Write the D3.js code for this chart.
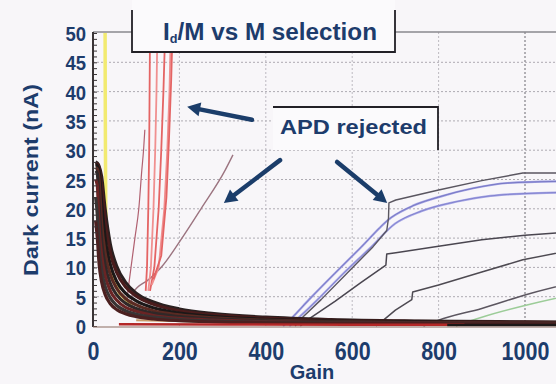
<!DOCTYPE html>
<html>
<head>
<meta charset="utf-8">
<script src="https://cdn.jsdelivr.net/npm/d3@7"></script>
<style>
html, body { margin: 0; padding: 0; background: #f8f6f9; }
svg { display: block; }
</style>
</head>
<body>
<svg id="chart" width="556" height="384"></svg>
<script>
// axis ticks
const gainTicks = [0, 200, 400, 600, 800, 1000];
const currentTicks = [0, 5, 10, 15, 20, 25, 30, 35, 40, 45, 50];

// the dense I/M decay band (gain, nA values per curve)
const bandGain = [6, 10, 14, 20, 28, 40, 55, 75, 100, 140, 200, 280, 400, 550, 750, 1000, 1100];
const band1 = [18, 15, 10.7, 7.5, 5.4, 3.8, 2.8, 2.1, 1.6, 1.2, 0.9, 0.7, 0.55, 0.45, 0.4, 0.35, 0.35];
const band2 = [22, 19, 13.6, 9.5, 6.8, 4.8, 3.5, 2.6, 2.0, 1.5, 1.1, 0.85, 0.65, 0.55, 0.45, 0.4, 0.4];
const band3 = [25, 24, 17, 12, 8.6, 6.0, 4.4, 3.2, 2.5, 1.8, 1.3, 1.0, 0.75, 0.6, 0.5, 0.45, 0.45];
const band4 = [26.5, 26, 20.7, 14.5, 10.4, 7.3, 5.3, 3.9, 3.0, 2.2, 1.6, 1.2, 0.9, 0.7, 0.55, 0.5, 0.5];
const band5 = [27, 26.8, 25, 17.5, 12.5, 8.8, 6.4, 4.7, 3.6, 2.6, 1.9, 1.4, 1.0, 0.8, 0.6, 0.55, 0.5];
const band6 = [27.5, 27.3, 26.5, 21, 15, 10.5, 7.6, 5.6, 4.3, 3.1, 2.2, 1.6, 1.15, 0.9, 0.7, 0.6, 0.55];
const band7 = [27.8, 27.6, 27, 24, 17.8, 12.5, 9.1, 6.7, 5.1, 3.7, 2.6, 1.9, 1.35, 1.0, 0.8, 0.65, 0.6];
const band8 = [28, 27.8, 27.3, 25.5, 20, 14, 10.2, 7.5, 5.6, 4.1, 2.9, 2.1, 1.5, 1.1, 0.85, 0.7, 0.65];
const bandSeries = [band8, band7, band6, band5, band4, band3, band2, band1];
const bandColors = ["#2a2020", "#4a1c1c", "#1c1818", "#5a2a22", "#302828", "#6a2424", "#3a3434", "#4c2020"];

// baseline traces
const redBase = [[60, 0.3], [300, 0.25], [600, 0.2], [860, 0.2]];
const blackBase = [[820, 0.15], [1100, 0.15]];
const tanLine = [[100, 1.0], [300, 0.7], [600, 0.55], [900, 0.5], [1100, 0.5]];

// rejected APDs, low gain
const yellowLine = [[28, 50], [28.3, 40], [28.8, 30], [29.5, 20], [32, 14], [38, 10.5], [46, 8], [62, 5.5], [90, 3.6]];
const pinkLine = [[78, 4], [81, 6], [88, 10], [97, 15], [106, 20], [113, 26.6], [117, 30], [120, 33.5]];
const mauveLine = [[88, 4], [92, 5.6], [130, 8], [160, 10.2], [206, 15], [250, 20], [306, 26.6], [324, 29.2]];
const redLines = [
  [[122, 6], [125, 10], [128, 20], [130, 30], [131, 40], [132, 50]],
  [[128, 6], [134, 10], [140, 20], [144, 30], [147, 40], [149, 50]],
  [[132, 6], [142, 10], [152, 20], [158, 30], [163, 40], [167, 50]],
  [[136, 7], [152, 10], [165, 20], [172, 30], [177, 40], [180, 50]],
  [[140, 8], [158, 12], [170, 22], [176, 32], [181, 42], [184, 50]]
];

// rejected APDs, high gain
const violetLine1 = [[440, 0], [455, 1], [500, 4.5], [560, 9], [620, 13.4], [690, 18.5], [740, 20.5], [800, 22], [880, 23.5], [960, 24.4], [1100, 24.7]];
const violetLine2 = [[455, 0], [470, 1], [520, 4.5], [580, 9], [640, 13.2], [700, 17.5], [760, 19.6], [840, 21.2], [920, 22.2], [1000, 22.6], [1100, 22.8]];
const grayLineA = [[468, 0], [478, 1], [528, 4.5], [588, 9], [648, 13.5], [680, 16.3], [684, 18.4], [685, 21], [701, 21.5], [800, 23.2], [900, 24.8], [995, 26.1], [1100, 26.1]];
const grayLineB = [[480, 0], [500, 1.2], [560, 4.2], [620, 7.4], [678, 10.4], [680, 12.3], [701, 12.5], [800, 13.6], [900, 14.7], [1000, 15.5], [1100, 16]];
const grayLineC = [[655, 0], [664, 0.5], [700, 2.7], [738, 4.5], [740, 5.8], [800, 7], [900, 9.2], [995, 11.3], [1100, 12.8]];
const grayLineD = [[765, 0], [800, 1], [900, 3], [1000, 5.3], [1100, 7.2]];
const greenLine = [[840, 0], [900, 1.5], [1000, 3.5], [1100, 5.2]];

// annotation arrows, [tail, head] in (gain, nA)
const arrows = [
  [[368, 35.2], [218, 37.4]],
  [[433, 28.3], [303, 21.0]],
  [[565, 28.0], [681, 21.0]]
];

const navy = "#1d3c6c";
const sans = "'Liberation Sans', Arial, sans-serif";

const svg = d3.select("#chart");
const x = d3.scaleLinear().domain([0, 1000]).range([93, 525]);
const y = d3.scaleLinear().domain([0, 50]).range([326, 33]);

svg.append("defs").append("clipPath").attr("id", "plotclip")
  .append("rect").attr("x", 93).attr("y", 32).attr("width", 463).attr("height", 295);

// grid
const grid = svg.append("g");
grid.selectAll(".hg").data(currentTicks.filter(d => d > 0 && d < 50)).enter().append("line")
  .attr("x1", 93).attr("x2", 556)
  .attr("y1", d => y(d)).attr("y2", d => y(d))
  .attr("stroke", "#aeabb2").attr("stroke-width", 1).attr("stroke-dasharray", "2,2");
grid.selectAll(".vg").data(gainTicks.filter(d => d > 0)).enter().append("line")
  .attr("x1", d => x(d)).attr("x2", d => x(d))
  .attr("y1", 32).attr("y2", 326)
  .attr("stroke", d => d === 1000 ? "#6a6870" : "#bdbac1").attr("stroke-width", 1).attr("stroke-dasharray", "2,2");

// frame top
svg.append("line").attr("x1", 93).attr("x2", 556).attr("y1", 32).attr("y2", 32)
  .attr("stroke", "#8a888e").attr("stroke-width", 1.5);

const plot = svg.append("g").attr("clip-path", "url(#plotclip)");
const line = d3.line().x(d => x(d[0])).y(d => y(d[1]));
const smooth = d3.line().x(d => x(d[0])).y(d => y(d[1])).curve(d3.curveMonotoneX);

function draw(pts, color, w, gen) {
  plot.append("path").datum(pts)
    .attr("fill", "none").attr("stroke", color).attr("stroke-width", w)
    .attr("stroke-linejoin", "round").attr("d", (gen || line)(pts));
}

draw(tanLine, "#c89a68", 2, smooth);
draw(greenLine, "#9ccc98", 1.5, smooth);
draw(grayLineD, "#5c5660", 1.5, smooth);
draw(grayLineC, "#4e4a52", 1.5);
draw(grayLineB, "#4a4650", 1.5);
draw(violetLine2, "#a8a8e6", 2.2, smooth);
draw(violetLine2, "#7878c8", 0.8, smooth);
draw(violetLine1, "#a0a0e2", 2.2, smooth);
draw(violetLine1, "#6e6ebc", 0.8, smooth);
draw(grayLineA, "#5a5660", 1.4);

draw(mauveLine, "#9c7480", 1.4, smooth);
draw(pinkLine, "#b06070", 1.2, smooth);
redLines.forEach((r, i) => draw(r, i % 2 ? "#f09090" : "#e46464", 1.8));
draw(yellowLine, "#f2ea70", 3.5);

bandSeries.forEach((s, i) => {
  const pts = bandGain.map((g, j) => [g, s[j]]);
  draw(pts, bandColors[i], 3.2, smooth);
});
draw(redBase, "#b42828", 2.5);
draw(blackBase, "#1c1818", 2.5);

// left axis line & minor inner ticks
svg.append("line").attr("x1", 93).attr("x2", 93).attr("y1", 32).attr("y2", 327)
  .attr("stroke", "#3a3436").attr("stroke-width", 2);
svg.append("g").attr("transform", "translate(93,0)")
  .call(d3.axisRight(y).tickValues(d3.range(0, 51, 1)).tickSize(4).tickFormat(""))
  .call(g => g.select(".domain").remove())
  .call(g => g.selectAll("line").attr("stroke", "#3a3436"));
// bottom axis line
svg.append("line").attr("x1", 93).attr("x2", 556).attr("y1", 327).attr("y2", 327)
  .attr("stroke", "#8a6a60").attr("stroke-width", 1.2);

// tick labels (condensed by horizontal scaling)
svg.append("g").attr("transform", "translate(86,0)")
  .call(d3.axisLeft(y).tickValues(currentTicks).tickSize(0).tickPadding(0).tickFormat(d3.format("d")))
  .call(g => g.select(".domain").remove())
  .call(g => g.selectAll("text").attr("fill", navy).attr("font-family", sans)
    .attr("font-weight", "bold").attr("font-size", 21).attr("dy", "0.36em")
    .attr("transform", "scale(0.88,1)"));
svg.append("g").attr("transform", "translate(0,342)")
  .call(d3.axisBottom(x).tickValues(gainTicks).tickSize(0).tickPadding(0).tickFormat(d3.format("d")))
  .call(g => g.select(".domain").remove())
  .call(g => g.selectAll("text").attr("fill", navy).attr("font-family", sans)
    .attr("font-weight", "bold").attr("font-size", 25).attr("dy", "0.72em")
    .attr("transform", "scale(0.86,1)"));

// axis titles
svg.append("text").attr("x", 312).attr("y", 379).attr("text-anchor", "middle")
  .attr("fill", navy).attr("font-family", sans)
  .attr("font-weight", "bold").attr("font-size", 20).text("Gain");
svg.append("text").attr("transform", "translate(38,180) rotate(-90)").attr("text-anchor", "middle")
  .attr("fill", navy).attr("font-family", sans)
  .attr("font-weight", "bold").attr("font-size", 21)
  .attr("textLength", 192).attr("lengthAdjust", "spacingAndGlyphs").text("Dark current (nA)");

// title box
svg.append("rect").attr("x", 132).attr("y", 0).attr("width", 263).attr("height", 52).attr("fill", "#fbfafc");
svg.append("path").attr("d", "M132,10V52H395V10").attr("fill", "none")
  .attr("stroke", "#222026").attr("stroke-width", 1.8);
const title = svg.append("text").attr("x", 163).attr("y", 40)
  .attr("fill", navy).attr("font-family", sans).attr("font-weight", "bold").attr("font-size", 23)
  .attr("textLength", 214).attr("lengthAdjust", "spacingAndGlyphs");
title.append("tspan").text("I");
title.append("tspan").attr("font-size", 12).attr("dy", 3).text("d");
title.append("tspan").attr("dy", -3).text("/M vs M selection");

// APD rejected box
svg.append("rect").attr("x", 273).attr("y", 107).attr("width", 165).attr("height", 43).attr("fill", "#fbfafc");
svg.append("path").attr("d", "M273,107H438V150").attr("fill", "none")
  .attr("stroke", "#222026").attr("stroke-width", 1.8);
svg.append("text").attr("x", 280).attr("y", 134)
  .attr("fill", navy).attr("font-family", sans).attr("font-weight", "bold").attr("font-size", 21)
  .attr("textLength", 147).attr("lengthAdjust", "spacingAndGlyphs")
  .text("APD rejected");

// arrows
arrows.forEach(a => {
  const [t, h] = a;
  const x1 = x(t[0]), y1 = y(t[1]), x2 = x(h[0]), y2 = y(h[1]);
  const ang = Math.atan2(y2 - y1, x2 - x1);
  const len = 13, wid = 7;
  const bx = x2 - len * Math.cos(ang), by = y2 - len * Math.sin(ang);
  svg.append("line").attr("x1", x1).attr("y1", y1).attr("x2", bx).attr("y2", by)
    .attr("stroke", "#1b3d6a").attr("stroke-width", 4.5).attr("stroke-linecap", "round");
  const px = -Math.sin(ang) * wid, py = Math.cos(ang) * wid;
  svg.append("path")
    .attr("d", `M${x2},${y2}L${bx + px},${by + py}L${bx - px},${by - py}Z`)
    .attr("fill", "#1b3d6a");
});
</script>
</body>
</html>
